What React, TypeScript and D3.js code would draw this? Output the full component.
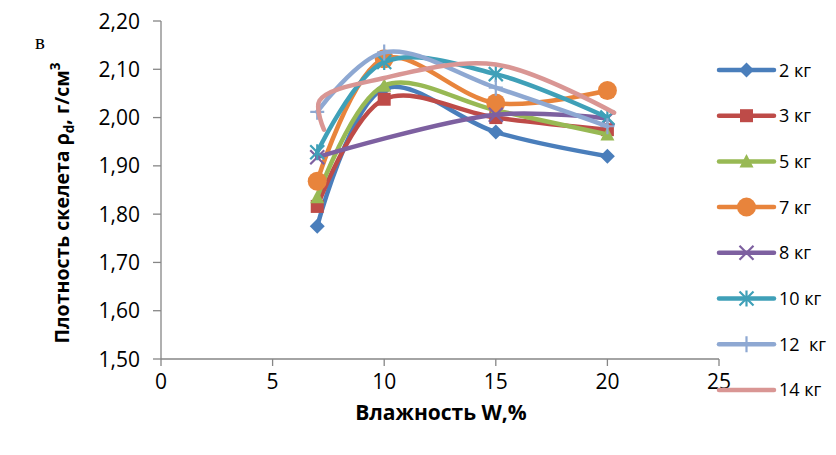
import React from "react";
import * as d3 from "d3";

const seriesNames = ["2 кг", "3 кг", "5 кг", "7 кг", "8 кг", "10 кг", "12  кг", "14 кг"];
const colors = ["#4A7EBB", "#BE4B48", "#98B954", "#E8843C", "#7D60A0", "#3FA0B8", "#8EA8D2", "#D99694"];
const markers = ["diamond", "square", "triangle", "circle", "x", "asterisk", "plus", "none"];

const xs2 = [7, 10, 15, 20];
const ys2 = [1.775, 2.06, 1.97, 1.92];
const xs3 = [7, 10, 15, 20];
const ys3 = [1.816, 2.038, 2.0, 1.975];
const xs5 = [7, 10, 15, 20];
const ys5 = [1.835, 2.066, 2.015, 1.965];
const xs7 = [7, 10, 15, 20];
const ys7 = [1.868, 2.122, 2.03, 2.056];
const xs8 = [7, 15, 20];
const ys8 = [1.918, 2.006, 1.998];
const xs10 = [7, 10, 15, 20];
const ys10 = [1.928, 2.115, 2.09, 2.0];
const xs12 = [7, 10, 15, 20];
const ys12 = [2.012, 2.135, 2.062, 1.982];
const xs14 = [7.3, 7.1, 10, 15, 20.3];
const ys14 = [1.975, 2.035, 2.082, 2.11, 2.01];

const allX = [xs2, xs3, xs5, xs7, xs8, xs10, xs12, xs14];
const allY = [ys2, ys3, ys5, ys7, ys8, ys10, ys12, ys14];

const xTicks = [0, 5, 10, 15, 20, 25];
const yTicks = [1.5, 1.6, 1.7, 1.8, 1.9, 2.0, 2.1, 2.2];

const W = 836;
const H = 455;
const x = d3.scaleLinear().domain([0, 25]).range([161, 719]);
const y = d3.scaleLinear().domain([1.5, 2.2]).range([359, 21]);
const axisColor = "#868686";
const font = "'Open Sans', 'Liberation Sans', sans-serif";

function Marker({ type, cx, cy, color }: { type: string; cx: number; cy: number; color: string }) {
  switch (type) {
    case "diamond":
      return <path d={`M${cx},${cy - 7.5}L${cx + 7.5},${cy}L${cx},${cy + 7.5}L${cx - 7.5},${cy}Z`} fill={color} />;
    case "square":
      return <rect x={cx - 6.5} y={cy - 6.5} width={13} height={13} fill={color} />;
    case "triangle":
      return <path d={`M${cx},${cy - 7.5}L${cx + 7},${cy + 6}L${cx - 7},${cy + 6}Z`} fill={color} />;
    case "circle":
      return <circle cx={cx} cy={cy} r={9.5} fill={color} />;
    case "x":
      return (
        <path d={`M${cx - 7},${cy - 7}L${cx + 7},${cy + 7}M${cx - 7},${cy + 7}L${cx + 7},${cy - 7}`} stroke={color} strokeWidth={2.2} />
      );
    case "asterisk":
      return (
        <path
          d={`M${cx - 7},${cy - 7}L${cx + 7},${cy + 7}M${cx - 7},${cy + 7}L${cx + 7},${cy - 7}M${cx},${cy - 8}L${cx},${cy + 8}`}
          stroke={color}
          strokeWidth={2.2}
        />
      );
    case "plus":
      return <path d={`M${cx - 7},${cy}L${cx + 7},${cy}M${cx},${cy - 8}L${cx},${cy + 8}`} stroke={color} strokeWidth={2.2} />;
    default:
      return null;
  }
}

export default function App() {
  const line = d3
    .line<[number, number]>()
    .x((d) => x(d[0]))
    .y((d) => y(d[1]))
    .curve(d3.curveCatmullRom.alpha(0.5));

  const legendX0 = 719;
  const legendX1 = 774;
  const legendY0 = 70;
  const legendStep = 45.7;

  return (
    <svg width={W} height={H} style={{ position: "absolute", left: 0, top: 0, background: "#fff" }}>
      <rect x={0} y={0} width={W} height={H} fill="#fff" />
      {/* axes */}
      <line x1={x(0)} x2={x(0)} y1={y(2.2)} y2={y(1.5)} stroke={axisColor} strokeWidth={1.3} />
      <line x1={x(0)} x2={x(25)} y1={y(1.5)} y2={y(1.5)} stroke={axisColor} strokeWidth={1.3} />
      {yTicks.map((t) => (
        <g key={"y" + t}>
          <line x1={x(0) - 8} x2={x(0)} y1={y(t)} y2={y(t)} stroke={axisColor} strokeWidth={1.3} />
          <text x={140} y={y(t) + 7.5} textAnchor="end" fontFamily={font} fontSize={21} fill="#000">
            {t.toFixed(2).replace(".", ",")}
          </text>
        </g>
      ))}
      {xTicks.map((t) => (
        <g key={"x" + t}>
          <line x1={x(t)} x2={x(t)} y1={y(1.5)} y2={y(1.5) + 7} stroke={axisColor} strokeWidth={1.3} />
          <text x={x(t)} y={389} textAnchor="middle" fontFamily={font} fontSize={21} fill="#000">
            {t}
          </text>
        </g>
      ))}
      {/* series */}
      {seriesNames.map((name, i) => {
        const pts: [number, number][] = allX[i].map((v, j) => [v, allY[i][j]]);
        return (
          <g key={name}>
            <path d={line(pts) || ""} fill="none" stroke={colors[i]} strokeWidth={4.5} strokeLinecap="round" strokeLinejoin="round" />
            {pts.map((p, j) => (
              <Marker key={j} type={markers[i]} cx={x(p[0])} cy={y(p[1])} color={colors[i]} />
            ))}
          </g>
        );
      })}
      {/* legend */}
      {seriesNames.map((name, i) => {
        const ly = legendY0 + i * legendStep;
        return (
          <g key={"l" + name}>
            <line x1={legendX0} x2={legendX1} y1={ly} y2={ly} stroke={colors[i]} strokeWidth={4.5} strokeLinecap="round" />
            <Marker type={markers[i]} cx={(legendX0 + legendX1) / 2} cy={ly} color={colors[i]} />
            <text x={779} y={ly + 6.5} fontFamily={font} fontSize={18} fill="#000" style={{ whiteSpace: "pre" }}>
              {name}
            </text>
          </g>
        );
      })}
      {/* titles */}
      <text x={441} y={420} textAnchor="middle" fontFamily={font} fontSize={21} fontWeight="bold" fill="#000">
        Влажность W,%
      </text>
      <text transform={`translate(69,${203}) rotate(-90)`} textAnchor="middle" fontFamily={font} fontSize={19.5} fontWeight="bold" fill="#000">
        Плотность  скелета ρ
        <tspan fontSize={13.5} dy={5}>d</tspan>
        <tspan dy={-5}>, г/см</tspan>
        <tspan fontSize={13.5} dy={-9}>3</tspan>
      </text>
      <text x={35} y={49} fontFamily="'Liberation Serif', 'DejaVu Serif', serif" fontSize={21} fill="#000">
        в
      </text>
    </svg>
  );
}
